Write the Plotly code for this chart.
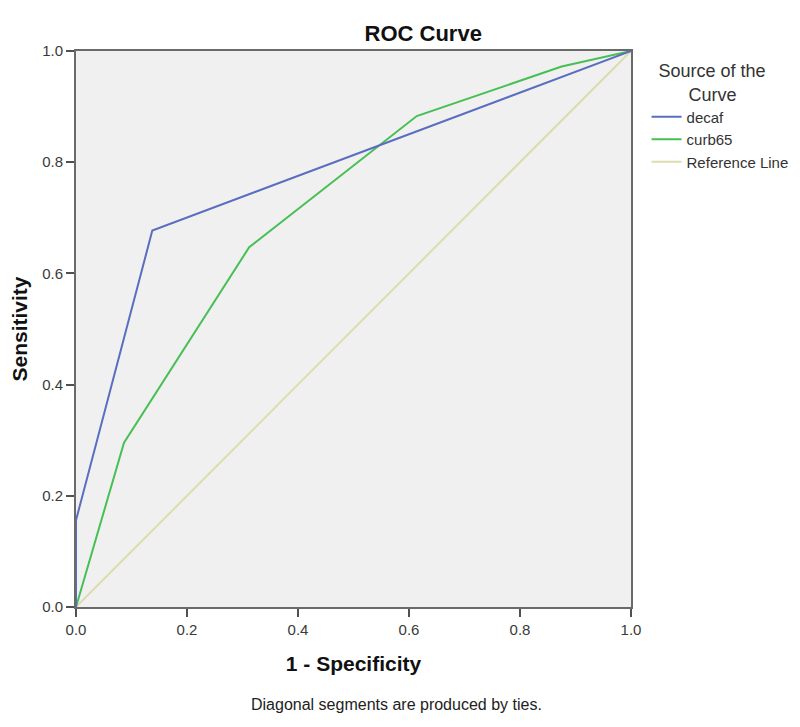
import plotly.graph_objects as go

decaf_x = [0.0, 0.0, 0.1375, 1.0]
decaf_y = [0.0, 0.156, 0.677, 1.0]
curb_x = [0.0, 0.0865, 0.312, 0.614, 0.875, 1.0]
curb_y = [0.0, 0.2955, 0.647, 0.883, 0.972, 1.0]
ref_x = [0.0, 1.0]
ref_y = [0.0, 1.0]
ticks = [0.0, 0.2, 0.4, 0.6, 0.8, 1.0]
tick_labels = ["0.0", "0.2", "0.4", "0.6", "0.8", "1.0"]

FONT = "Liberation Sans, Arial, sans-serif"

fig = go.Figure()
fig.add_trace(go.Scatter(x=ref_x, y=ref_y, mode="lines", name="Reference Line",
                         line=dict(color="#dcdcb0", width=2), legendrank=3))
fig.add_trace(go.Scatter(x=curb_x, y=curb_y, mode="lines", name="curb65",
                         line=dict(color="#48bf55", width=2), legendrank=2))
fig.add_trace(go.Scatter(x=decaf_x, y=decaf_y, mode="lines", name="decaf",
                         line=dict(color="#5a6ebf", width=2), legendrank=1))

axis_common = dict(range=[0, 1], tickvals=ticks, ticktext=tick_labels,
                   showgrid=False, zeroline=False, showline=True, mirror=True,
                   linecolor="#6a6a6a", linewidth=2, ticks="outside", ticklen=8,
                   tickwidth=2, tickcolor="#505050",
                   tickfont=dict(family=FONT, size=15, color="#3a3a3a"))

fig.update_xaxes(**axis_common,
                 title=dict(text="<b>1 - Specificity</b>", standoff=19,
                            font=dict(family=FONT, size=21, color="#111111")))
fig.update_yaxes(**axis_common,
                 title=dict(text="<b>Sensitivity</b>", standoff=12,
                            font=dict(family=FONT, size=21, color="#111111")))

fig.update_layout(
    width=800, height=727,
    margin=dict(l=68, r=177, t=43, b=128, autoexpand=False),
    paper_bgcolor="white", plot_bgcolor="#f0f0f0",
    font=dict(family=FONT, color="#333333"),
    title=dict(text="<b>ROC Curve</b>", x=0.519, xanchor="center", y=0.9656, yanchor="middle",
               font=dict(family=FONT, size=22, color="#111111")),
    legend=dict(x=1.028, xanchor="left", y=0.995, yanchor="top",
                title=dict(text="  Source of the<br>        Curve", side="top",
                           font=dict(family=FONT, size=18, color="#333333")),
                font=dict(family=FONT, size=15, color="#333333"),
                bgcolor="rgba(0,0,0,0)", tracegroupgap=0, itemwidth=30),
    showlegend=True,
    annotations=[dict(text="Diagonal segments are produced by ties.", x=0.578, xref="paper",
                      y=-0.176, yref="paper", xanchor="center", yanchor="middle",
                      showarrow=False,
                      font=dict(family=FONT, size=16, color="#222222"))],
)

fig.write_html("out.html")
